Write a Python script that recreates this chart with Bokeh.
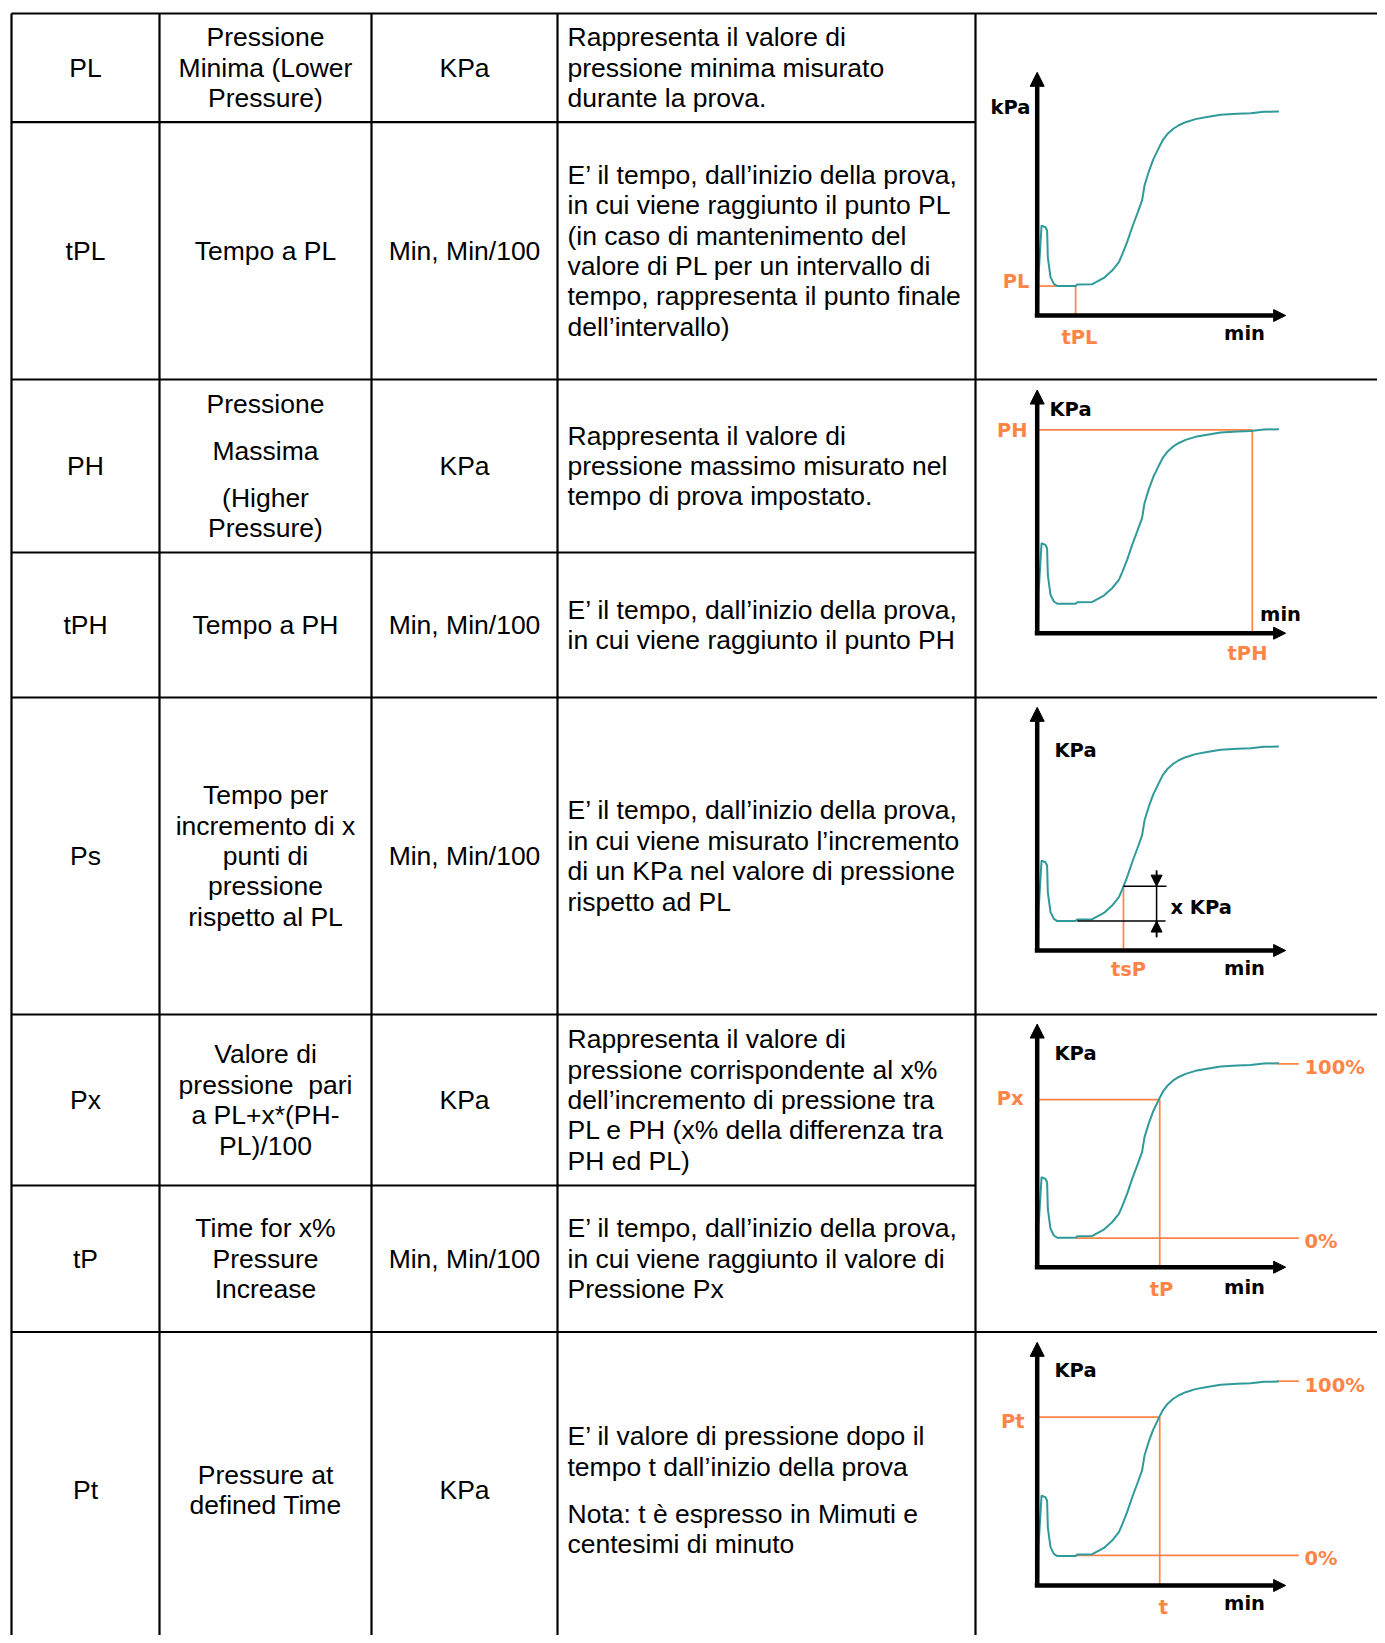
from bokeh.plotting import figure
from bokeh.models import Range1d, Arrow, NormalHead
from bokeh.core.properties import value
from bokeh.embed import file_html
from bokeh.resources import INLINE

# ---------------- table content ----------------
symbols = ["PL", "tPL", "PH", "tPH", "Ps", "Px", "tP", "Pt"]
names = [
    ["Pressione", "Minima (Lower", "Pressure)"],
    ["Tempo a PL"],
    ["Pressione", "", "Massima", "", "(Higher", "Pressure)"],
    ["Tempo a PH"],
    ["Tempo per", "incremento di x", "punti di", "pressione", "rispetto al PL"],
    ["Valore di", "pressione\u00a0 pari", "a PL+x*(PH-", "PL)/100"],
    ["Time for x%", "Pressure", "Increase"],
    ["Pressure at", "defined Time"],
]
units = ["KPa", "Min, Min/100", "KPa", "Min, Min/100", "Min, Min/100", "KPa", "Min, Min/100", "KPa"]
descriptions = [
    ["Rappresenta il valore di", "pressione minima misurato", "durante la prova."],
    ["E\u2019 il tempo, dall\u2019inizio della prova,", "in cui viene raggiunto il punto PL",
     "(in caso di mantenimento del", "valore di PL per un intervallo di",
     "tempo, rappresenta il punto finale", "dell\u2019intervallo)"],
    ["Rappresenta il valore di", "pressione massimo misurato nel", "tempo di prova impostato."],
    ["E\u2019 il tempo, dall\u2019inizio della prova,", "in cui viene raggiunto il punto PH"],
    ["E\u2019 il tempo, dall\u2019inizio della prova,", "in cui viene misurato l\u2019incremento",
     "di un KPa nel valore di pressione", "rispetto ad PL"],
    ["Rappresenta il valore di", "pressione corrispondente al x%", "dell\u2019incremento di pressione tra",
     "PL e PH (x% della differenza tra", "PH ed PL)"],
    ["E\u2019 il tempo, dall\u2019inizio della prova,", "in cui viene raggiunto il valore di", "Pressione Px"],
    ["E\u2019 il valore di pressione dopo il", "tempo t dall\u2019inizio della prova", "",
     "Nota: t \u00e8 espresso in Mimuti e", "centesimi di minuto"],
]

# ---------------- mini-chart data (time in min, pressure in kPa) ----------------
curve_t = [0, 0.04, 0.06, 0.18, 0.34, 0.41, 0.44, 0.55, 0.69, 0.83, 1.59, 1.66, 2.28, 2.76,
           3.10, 3.38, 3.52, 3.72, 3.93, 4.14, 4.34, 4.44, 4.62, 4.80, 5.05, 5.21, 5.41, 5.63,
           5.86, 6.14, 6.55, 7.03, 7.59, 8.28, 8.83, 9.38, 10.0]
curve_p = [0, 0, 20.4, 44.0, 43.2, 41.6, 28.5, 18.8, 15.5, 14.4, 14.4, 15.2, 15.3, 18.4,
           22.0, 26.1, 29.9, 35.9, 43.2, 49.8, 56.3, 63.6, 70.5, 76.3, 82.4, 86.1, 89.1, 91.4,
           93.1, 94.6, 96.1, 97.1, 98.2, 98.7, 99.0, 99.7, 99.8]
PL_level, tPL = 14.4, 1.59
PH_level, tPH = 99.5, 8.9
tsP, x_kpa = 3.57, 17.1
Px_level, tP = 82.0, 5.07
Pt_level, t_def = 82.4, 5.07
axis_t_max, axis_p_max = 10.28, 119.0
ref_line_end = 10.83

# ---------------- layout ----------------
W, H = 1377, 1635
col_x = [11, 159, 371, 557, 975]
row_y = [13, 121.7, 379, 552, 697, 1014, 1185, 1331.5]
row_bottom_virtual = 1648
chart_rows_breaks = [13, 379, 697, 1014, 1331.5]  # full-width lines
DESC_X = 567
OX = 1036.7
SX = 72.5 / 3.0
SY = 6.13 / 3.0
chart_origins = [315, 632.7, 950, 1266.7, 1585]

TEAL = "#30999a"
ORANGE = "#ff8446"
FONT = "Liberation Sans"
CFONT = "DejaVu Sans"
FS = "26.5px"
PITCH = 30.4
GAP = 16.5

p = figure(width=W, height=H, x_range=Range1d(0, W), y_range=Range1d(H, 0),
           output_backend="svg", toolbar_location=None, min_border=0,
           x_axis_type=None, y_axis_type=None)
p.grid.visible = False
p.outline_line_color = None
p.background_fill_color = "white"
p.border_fill_color = "white"

p.extra_x_ranges = {"t": Range1d((0 - OX) / SX, (W - OX) / SX)}
p.extra_y_ranges = {f"c{k}": Range1d((oy - H) / SY, (oy - 0) / SY)
                    for k, oy in enumerate(chart_origins)}

# ---- table grid ----
hx0, hx1, hy = [], [], []
for y in row_y:
    hx0.append(col_x[0])
    hx1.append(W + 20 if y in chart_rows_breaks else col_x[4])
    hy.append(y)
p.segment(x0=hx0, y0=hy, x1=hx1, y1=hy, line_color="black", line_width=2.2)
p.segment(x0=col_x, y0=[row_y[0]] * len(col_x), x1=col_x, y1=[H + 20] * len(col_x),
          line_color="black", line_width=2.2)


def place(lines, cy):
    pos, cur = [], 0.0
    for s in lines:
        if s == "":
            cur += GAP
            continue
        pos.append((s, cur))
        cur += PITCH
    span = pos[-1][1] - pos[0][1]
    return [(s, cy - span / 2 + o) for s, o in pos]


bounds = row_y + [row_bottom_virtual]
tx, ty, tt, ta = [], [], [], []
for i in range(8):
    cy = (bounds[i] + bounds[i + 1]) / 2
    cells = [([symbols[i]], (col_x[0] + col_x[1]) / 2, "center"),
             (names[i], (col_x[1] + col_x[2]) / 2, "center"),
             ([units[i]], (col_x[2] + col_x[3]) / 2, "center"),
             (descriptions[i], DESC_X, "left")]
    for lines, x, al in cells:
        for s, y in place(lines, cy):
            tx.append(x); ty.append(y); tt.append(s); ta.append(al)
p.text(x=tx, y=ty, text=tt, text_align=ta, text_baseline="middle",
       text_font=value(FONT), text_font_size=FS, text_color="black")

# ---- mini charts ----
orange_segs = [
    [(-0.07, PL_level, 0.83, PL_level), (tPL, PL_level, tPL, 0)],
    [(0, PH_level, tPH, PH_level), (tPH, PH_level, tPH, 0)],
    [(tsP, PL_level + x_kpa, tsP, 0)],
    [(9.93, PH_level, ref_line_end, PH_level), (tPL, PL_level - 0.2, ref_line_end, PL_level - 0.2),
     (0, Px_level, tP, Px_level), (tP, Px_level, tP, 0)],
    [(9.93, 100.0, ref_line_end, 100.0), (tPL, PL_level + 0.3, ref_line_end, PL_level + 0.3),
     (0, Pt_level, t_def, Pt_level), (t_def, Pt_level, t_def, 0)],
]

for k in range(5):
    yr = f"c{k}"
    segs = orange_segs[k]
    p.segment(x0=[s[0] for s in segs], y0=[s[1] for s in segs],
              x1=[s[2] for s in segs], y1=[s[3] for s in segs],
              line_color=ORANGE, line_width=1.7, x_range_name="t", y_range_name=yr)
    p.line(curve_t, curve_p, line_color=TEAL, line_width=2.0, x_range_name="t", y_range_name=yr)
    if k == 2:
        top = PL_level + x_kpa
        p.segment(x0=[tsP, 1.66, 4.94], y0=[top, PL_level, 6.5],
                  x1=[5.35, 5.31, 4.94], y1=[top, PL_level, 39.2],
                  line_color="black", line_width=1.5, x_range_name="t", y_range_name=yr)
        for ys, ye in [(39.2, top), (6.5, PL_level)]:
            p.add_layout(Arrow(end=NormalHead(size=11, fill_color="black", line_color="black"),
                               x_start=4.94, y_start=ys, x_end=4.94, y_end=ye,
                               line_color="black", line_width=1.5,
                               x_range_name="t", y_range_name=yr))
    p.add_layout(Arrow(end=NormalHead(size=14, fill_color="black", line_color="black"),
                       x_start=0, y_start=0, x_end=0, y_end=axis_p_max,
                       line_color="black", line_width=4.5, x_range_name="t", y_range_name=yr))
    p.add_layout(Arrow(end=NormalHead(size=12, fill_color="black", line_color="black"),
                       x_start=-0.1, y_start=0, x_end=axis_t_max, y_end=0,
                       line_color="black", line_width=4.5, x_range_name="t", y_range_name=yr))

chart_labels = [
    ("kPa", 1030, 107, "right", "black"), ("PL", 1029, 281, "right", ORANGE),
    ("tPL", 1079, 337, "center", ORANGE), ("min", 1244, 333, "center", "black"),
    ("KPa", 1049, 409, "left", "black"), ("PH", 1027, 430, "right", ORANGE),
    ("min", 1280, 614, "center", "black"), ("tPH", 1247, 653, "center", ORANGE),
    ("KPa", 1054, 750, "left", "black"), ("x KPa", 1170, 907, "left", "black"),
    ("tsP", 1128, 969, "center", ORANGE), ("min", 1244, 968, "center", "black"),
    ("KPa", 1054, 1053, "left", "black"), ("100%", 1304, 1067, "left", ORANGE),
    ("0%", 1304, 1241, "left", ORANGE), ("Px", 1023, 1098, "right", ORANGE),
    ("tP", 1161, 1289, "center", ORANGE), ("min", 1244, 1287, "center", "black"),
    ("KPa", 1054, 1370, "left", "black"), ("100%", 1304, 1385, "left", ORANGE),
    ("0%", 1304, 1558, "left", ORANGE), ("Pt", 1024, 1421, "right", ORANGE),
    ("t", 1163, 1607, "center", ORANGE), ("min", 1244, 1603, "center", "black"),
]
p.text(x=[c[1] for c in chart_labels], y=[c[2] for c in chart_labels],
       text=[c[0] for c in chart_labels], text_align=[c[3] for c in chart_labels],
       text_color=[c[4] for c in chart_labels], text_baseline="middle",
       text_font=value(CFONT), text_font_style="bold", text_font_size="19.5px")

open("out.html", "w").write(file_html(p, INLINE))
